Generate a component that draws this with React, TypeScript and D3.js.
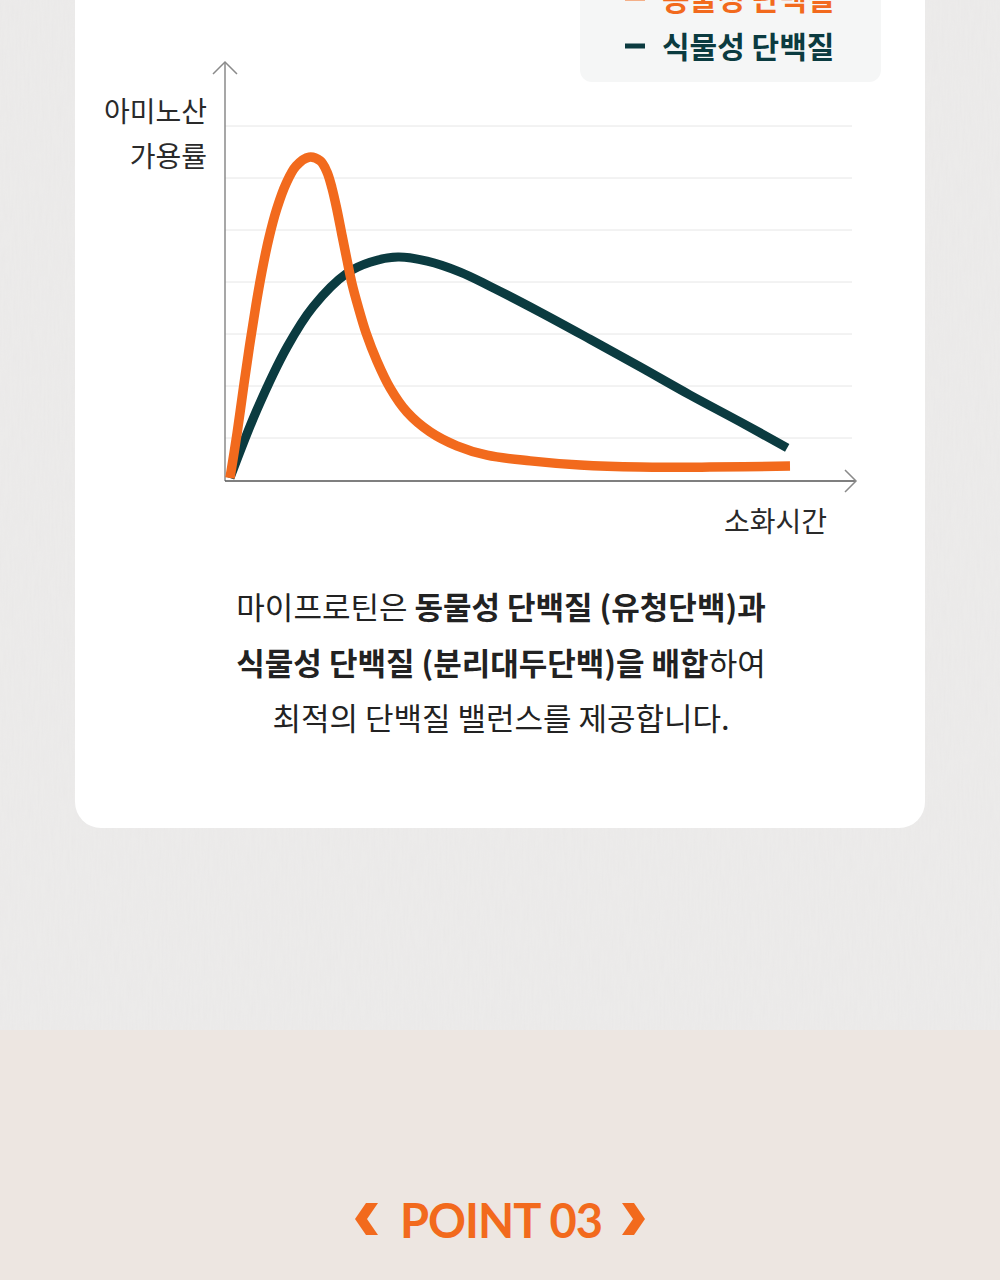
import React from "react";
import * as d3 from "d3";

// ---- data ----
const seriesNames = ["동물성 단백질", "식물성 단백질"];
const animalTime = [0, 1.25, 2.5, 3.57, 4.64, 5.71, 6.96, 8.39, 10.0, 11.8, 14.1, 16.1, 17.3, 18.2, 19.1, 20.0, 20.9, 21.8, 22.9, 24.3, 26.25, 28.6, 31.6, 35.7, 40.5, 45.9, 53.6, 62.5, 73.2, 85.7, 100];
const animalValue = [2.3, 10.8, 20.4, 28.3, 35.6, 42.1, 48.5, 54.2, 58.9, 62.3, 64.0, 63.3, 61.2, 58.1, 53.9, 49.0, 44.2, 39.6, 35.2, 30.2, 24.8, 19.6, 15.0, 11.2, 8.5, 6.7, 5.6, 4.8, 4.4, 4.4, 4.6];
const plantTime = [0, 4.8, 10.2, 14.8, 20.9, 25, 30, 35.2, 41.1, 46.4, 55.4, 64.3, 73.2, 82.1, 91.1, 99.5];
const plantValue = [2.3, 15.4, 27.5, 35.2, 41.7, 43.8, 44.8, 44, 41.9, 39.2, 34.2, 29, 23.7, 18.3, 13.1, 8.1];
const gridValues = [10, 20, 30, 40, 50, 60, 70];
const yLabelLines = ["아미노산", "가용률"];
const xLabel = "소화시간";
const pointTitle = "POINT 03";

const ORANGE = "#f26a1d";
const DARK = "#0b3b40";
const KR = "'Noto Sans CJK KR', 'Noto Sans', sans-serif";

export default function App() {
  const x = d3.scaleLinear().domain([0, 100]).range([230, 790]);
  const y = d3.scaleLinear().domain([0, 70]).range([490, 126]);
  const line = d3
    .line<[number, number]>()
    .x((d) => x(d[0]))
    .y((d) => y(d[1]))
    .curve(d3.curveCatmullRom.alpha(0.5));
  const animal = animalTime.map((t, i) => [t, animalValue[i]] as [number, number]);
  const plant = plantTime.map((t, i) => [t, plantValue[i]] as [number, number]);

  const axisX = 225;
  const axisY = 481;

  return (
    <svg
      width={1000}
      height={1280}
      viewBox="0 0 1000 1280"
      style={{ position: "absolute", left: 0, top: 0 }}
    >
      <defs>
        <filter id="paper" x="0" y="0" width="100%" height="100%">
          <feTurbulence type="fractalNoise" baseFrequency="0.5 0.04" numOctaves={3} seed={4} result="n" />
          <feColorMatrix
            in="n"
            type="matrix"
            values="0 0 0 0 0.78  0 0 0 0 0.77  0 0 0 0 0.77  0 0 0 -1.6 1.1"
          />
        </filter>
      </defs>
      {/* background */}
      <rect x={0} y={0} width={1000} height={1032} fill="#ecebea" />
      <rect x={0} y={0} width={1000} height={1032} filter="url(#paper)" opacity={0.3} />
      <rect x={0} y={1030} width={1000} height={250} fill="#ede6e1" />

      {/* card */}
      <rect x={75} y={-40} width={850} height={868} rx={26} fill="#ffffff" />

      {/* legend */}
      <rect x={580} y={-30} width={301} height={112} rx={12} fill="#f5f6f6" />
      {seriesNames.map((name, i) => {
        const cy = -2 + i * 48;
        const c = i === 0 ? ORANGE : DARK;
        return (
          <g key={name}>
            <rect x={625} y={cy - 2.5} width={20} height={5} fill={c} />
            <text
              x={662}
              y={cy + 12}
              fontFamily={KR}
              fontWeight={700}
              fontSize={30}
              fill={c}
            >
              {name}
            </text>
          </g>
        );
      })}

      {/* grid */}
      {gridValues.map((g) => (
        <line key={g} x1={axisX} x2={852} y1={y(g)} y2={y(g)} stroke="#e6e6e6" strokeWidth={1} />
      ))}

      {/* axes */}
      <line x1={axisX} x2={axisX} y1={62} y2={axisY} stroke="#8a8a8a" strokeWidth={1.5} />
      <polyline points={`${axisX - 12},74 ${axisX},62 ${axisX + 12},74`} fill="none" stroke="#8a8a8a" strokeWidth={1.5} />
      <line x1={axisX} x2={856} y1={axisY} y2={axisY} stroke="#555" strokeWidth={1.5} />
      <polyline points={`845,470 856,481 845,492`} fill="none" stroke="#8a8a8a" strokeWidth={1.5} />

      {/* axis labels */}
      {yLabelLines.map((t, i) => (
        <text
          key={t}
          x={207}
          y={122 + i * 45}
          textAnchor="end"
          fontFamily={KR}
          fontSize={28}
          fill="#2a2a2a"
        >
          {t}
        </text>
      ))}
      <text x={827} y={532} textAnchor="end" fontFamily={KR} fontSize={28} fill="#2a2a2a">
        {xLabel}
      </text>

      {/* curves */}
      <path d={line(plant) || ""} fill="none" stroke={DARK} strokeWidth={9} strokeLinejoin="round" />
      <path d={line(animal) || ""} fill="none" stroke={ORANGE} strokeWidth={9.5} strokeLinejoin="round" />

      {/* description */}
      <g fontFamily={KR} fontSize={31} fill="#222" textAnchor="middle" style={{ whiteSpace: "pre" }}>
        <text x={501} y={619}>
          <tspan fontWeight={400}>마이프로틴은 </tspan>
          <tspan fontWeight={700}>동물성 단백질 (유청단백)과</tspan>
        </text>
        <text x={501} y={675}>
          <tspan fontWeight={700}>식물성 단백질 (분리대두단백)을 배합</tspan>
          <tspan fontWeight={400}>하여</tspan>
        </text>
        <text x={501} y={730} fontWeight={400}>
          최적의 단백질 밸런스를 제공합니다.
        </text>
      </g>

      {/* point title */}
      <polygon points="378,1203 366,1203 355,1219 366,1235 378,1235 367,1219" fill={ORANGE} />
      <polygon points="622,1203 634,1203 645,1219 634,1235 622,1235 633,1219" fill={ORANGE} />
      <text
        x={501}
        y={1238}
        textAnchor="middle"
        fontFamily="Lato, 'Open Sans', sans-serif"
        fontWeight={700}
        fontSize={47}
        letterSpacing={-1}
        fill={ORANGE}
      >
        {pointTitle}
      </text>
    </svg>
  );
}
